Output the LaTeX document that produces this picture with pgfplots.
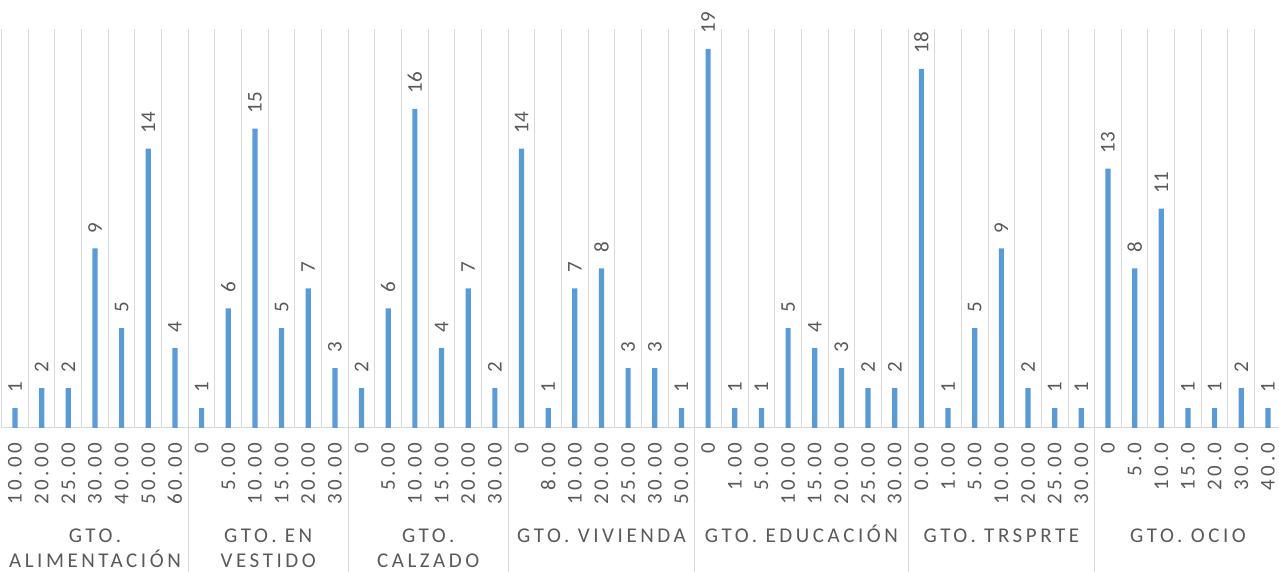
\documentclass[border=0pt]{standalone}
\usepackage{pgfplots}
\pgfplotsset{compat=1.18}
\usepackage{fontspec}
\setmainfont{Carlito}
\newfontfamily\spaced[LetterSpace=17]{Carlito}
\definecolor{barblue}{HTML}{5B9BD5}
\definecolor{txtgray}{HTML}{595959}
\definecolor{gridgray}{HTML}{D9D9D9}
\begin{document}
\begin{tikzpicture}
\begin{axis}[
  at={(0,0)}, anchor=south west,
  scale only axis, width=639.8pt, height=199.5pt,
  xmin=-0.5, xmax=47.5, ymin=0, ymax=20,
  axis x line=bottom, axis y line=none,
  x axis line style={gridgray, line width=0.5pt, -},
  /pgf/number format/assume math mode=true,
  ytick=\empty,
  xtick={0,...,47},
  xticklabels={10.00,20.00,25.00,30.00,40.00,50.00,60.00,0,5.00,10.00,15.00,20.00,30.00,0,5.00,10.00,15.00,20.00,30.00,0,8.00,10.00,20.00,25.00,30.00,50.00,0,1.00,5.00,10.00,15.00,20.00,25.00,30.00,0.00,1.00,5.00,10.00,20.00,25.00,30.00,0,5.0,10.0,15.0,20.0,30.0,40.0},
  minor xtick={-0.5,0.5,...,47.5},
  xminorgrids=true,
  minor grid style={gridgray, line width=0.5pt},
  major tick length=0pt, minor tick length=0pt,
  extra x ticks={6.5,12.5,18.5,25.5,33.5,40.5},
  extra x tick labels={},
  extra x tick style={major tick length=72pt, tick align=outside, tick style={gridgray, line width=0.5pt}},
  xticklabel style={font=\spaced\fontsize{10.5}{12}\selectfont, text=txtgray, rotate=90, anchor=east, inner xsep=7pt, inner ysep=0pt},
  nodes near coords,
  nodes near coords style={font=\fontsize{10.5}{12}\selectfont, text=txtgray, rotate=90, anchor=west, inner xsep=7.5pt, inner ysep=0pt},
  clip=false,
]
\addplot[ybar, fill=barblue, draw=none, bar width=2.6pt] table[x=i, y=v] {
i v
0 1
1 2
2 2
3 9
4 5
5 14
6 4
7 1
8 6
9 15
10 5
11 7
12 3
13 2
14 6
15 16
16 4
17 7
18 2
19 14
20 1
21 7
22 8
23 3
24 3
25 1
26 19
27 1
28 1
29 5
30 4
31 3
32 2
33 2
34 18
35 1
36 5
37 9
38 2
39 1
40 1
41 13
42 8
43 11
44 1
45 1
46 2
47 1
};
\tikzset{grp/.style={font=\spaced\fontsize{10.5}{12}\selectfont, text=txtgray, anchor=base, inner sep=0pt}}
\node[grp] at ([yshift=-57.5pt]axis cs:3,0) {GTO.};
\node[grp] at ([yshift=-70pt]axis cs:3,0) {ALIMENTACIÓN};
\node[grp] at ([yshift=-57.5pt]axis cs:9.5,0) {GTO. EN};
\node[grp] at ([yshift=-70pt]axis cs:9.5,0) {VESTIDO};
\node[grp] at ([yshift=-57.5pt]axis cs:15.5,0) {GTO.};
\node[grp] at ([yshift=-70pt]axis cs:15.5,0) {CALZADO};
\node[grp] at ([yshift=-57.5pt]axis cs:22,0) {GTO. VIVIENDA};
\node[grp] at ([yshift=-57.5pt]axis cs:29.5,0) {GTO. EDUCACIÓN};
\node[grp] at ([yshift=-57.5pt]axis cs:37,0) {GTO. TRSPRTE};
\node[grp] at ([yshift=-57.5pt]axis cs:44,0) {GTO. OCIO};
\end{axis}
\pgfresetboundingbox
\useasboundingbox (-0.835pt,-72pt) rectangle (638.665pt,214pt);
\end{tikzpicture}
\end{document}
